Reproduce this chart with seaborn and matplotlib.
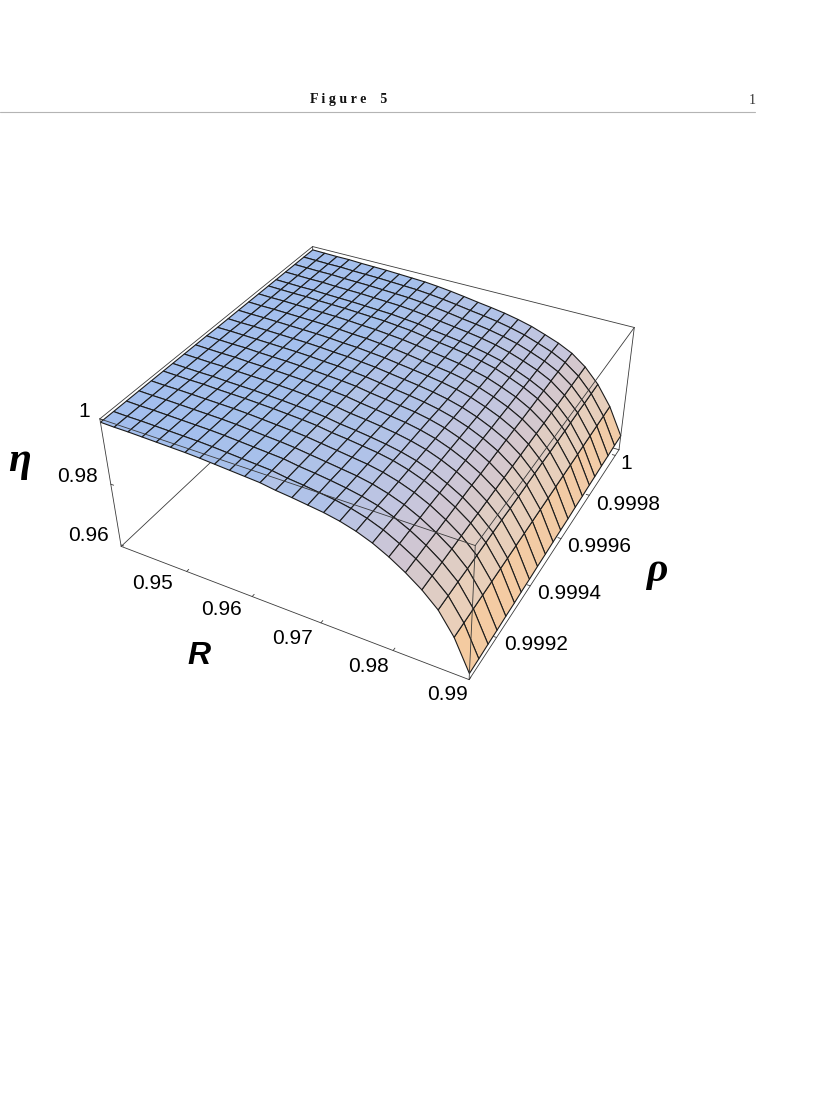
import numpy as np
import matplotlib
matplotlib.use("Agg")
import matplotlib.pyplot as plt
from matplotlib.lines import Line2D
from matplotlib.transforms import offset_copy
from mpl_toolkits.mplot3d import proj3d
import seaborn as sns

R_VALUES = [.9395, .9416, .9437, .9458, .9479, .9500, .9521, .9542, .9563, .9584, .9605, .9626, .9647,
            .9669, .9690, .9711, .9732, .9753, .9774, .9795, .9816, .9837, .9858, .9879, .9900]
RHO_VALUES = [.99905, .99910, .99915, .99920, .99925, .99930, .99934, .99939, .99944, .99949, .99954,
              .99959, .99964, .99969, .99974, .99979, .99983, .99988, .99993, .99998, 1.00003]
ETA_MIN, ETA_MAX = 0.9595, 1.0

# one row per R value, running along rho
ETA = [
    [.9990, .9990, .9990, .9990, .9990, .9990, .9990, .9990, .9990, .9990, .9989, .9989, .9989, .9989, .9989, .9989, .9989, .9989, .9989, .9989, .9989],
    [.9989, .9989, .9989, .9989, .9989, .9989, .9989, .9989, .9989, .9989, .9989, .9988, .9988, .9988, .9988, .9988, .9988, .9988, .9988, .9988, .9988],
    [.9989, .9989, .9989, .9989, .9989, .9988, .9988, .9988, .9988, .9988, .9988, .9988, .9988, .9988, .9988, .9987, .9987, .9987, .9987, .9987, .9987],
    [.9988, .9988, .9988, .9988, .9988, .9988, .9988, .9988, .9988, .9988, .9987, .9987, .9987, .9987, .9987, .9987, .9987, .9987, .9987, .9987, .9987],
    [.9987, .9987, .9987, .9987, .9987, .9986, .9986, .9986, .9986, .9986, .9986, .9986, .9986, .9986, .9986, .9985, .9985, .9985, .9985, .9985, .9985],
    [.9986, .9986, .9986, .9986, .9986, .9985, .9985, .9985, .9985, .9985, .9985, .9985, .9985, .9985, .9985, .9984, .9984, .9984, .9984, .9984, .9984],
    [.9985, .9985, .9985, .9985, .9985, .9984, .9984, .9984, .9984, .9984, .9984, .9984, .9984, .9984, .9984, .9983, .9983, .9983, .9983, .9983, .9983],
    [.9983, .9983, .9983, .9983, .9983, .9982, .9982, .9982, .9982, .9982, .9982, .9982, .9982, .9982, .9982, .9981, .9981, .9981, .9981, .9981, .9981],
    [.9980, .9980, .9980, .9980, .9980, .9980, .9980, .9980, .9980, .9980, .9979, .9979, .9979, .9979, .9979, .9979, .9979, .9979, .9979, .9979, .9979],
    [.9977, .9977, .9977, .9977, .9977, .9977, .9977, .9977, .9977, .9977, .9977, .9977, .9977, .9977, .9977, .9977, .9977, .9977, .9977, .9977, .9977],
    [.9974, .9974, .9974, .9974, .9974, .9974, .9974, .9974, .9974, .9974, .9973, .9973, .9973, .9973, .9973, .9973, .9973, .9973, .9973, .9973, .9973],
    [.9971, .9971, .9971, .9970, .9970, .9970, .9970, .9970, .9970, .9970, .9969, .9969, .9969, .9969, .9969, .9969, .9969, .9968, .9968, .9968, .9968],
    [.9964, .9964, .9964, .9964, .9964, .9963, .9963, .9963, .9963, .9963, .9963, .9963, .9963, .9963, .9963, .9962, .9962, .9962, .9962, .9962, .9962],
    [.9959, .9959, .9959, .9958, .9958, .9958, .9958, .9958, .9957, .9957, .9957, .9957, .9957, .9956, .9956, .9956, .9956, .9956, .9955, .9955, .9955],
    [.9953, .9953, .9953, .9952, .9952, .9952, .9952, .9952, .9951, .9951, .9951, .9951, .9951, .9950, .9950, .9950, .9950, .9950, .9949, .9949, .9949],
    [.9947, .9947, .9946, .9946, .9946, .9946, .9945, .9945, .9945, .9945, .9944, .9944, .9944, .9944, .9943, .9943, .9943, .9943, .9942, .9942, .9942],
    [.9938, .9938, .9937, .9937, .9937, .9937, .9936, .9936, .9936, .9936, .9935, .9935, .9935, .9935, .9934, .9934, .9934, .9934, .9933, .9933, .9933],
    [.9925, .9925, .9925, .9924, .9924, .9924, .9924, .9924, .9924, .9924, .9923, .9923, .9923, .9923, .9923, .9923, .9923, .9922, .9922, .9922, .9922],
    [.9907, .9907, .9907, .9907, .9907, .9907, .9907, .9907, .9907, .9907, .9907, .9907, .9907, .9907, .9907, .9907, .9907, .9907, .9907, .9907, .9907],
    [.9883, .9883, .9884, .9884, .9885, .9885, .9885, .9886, .9886, .9887, .9887, .9887, .9888, .9888, .9889, .9889, .9889, .9890, .9890, .9891, .9891],
    [.9854, .9855, .9856, .9856, .9857, .9858, .9859, .9860, .9860, .9861, .9862, .9863, .9864, .9864, .9865, .9866, .9867, .9868, .9868, .9869, .9870],
    [.9820, .9821, .9822, .9823, .9824, .9825, .9825, .9826, .9827, .9828, .9829, .9830, .9831, .9832, .9833, .9834, .9834, .9835, .9836, .9837, .9838],
    [.9777, .9778, .9779, .9779, .9780, .9781, .9782, .9783, .9783, .9784, .9785, .9786, .9787, .9787, .9788, .9789, .9790, .9791, .9791, .9792, .9793],
    [.9711, .9712, .9713, .9714, .9715, .9716, .9717, .9718, .9719, .9720, .9721, .9722, .9723, .9724, .9725, .9726, .9727, .9728, .9729, .9730, .9731],
    [.9615, .9616, .9618, .9619, .9621, .9622, .9624, .9625, .9627, .9628, .9630, .9631, .9632, .9634, .9635, .9637, .9638, .9640, .9641, .9643, .9644],
]

R_TICKS = [0.95, 0.96, 0.97, 0.98, 0.99]
R_TICK_LABELS = ["0.95", "0.96", "0.97", "0.98", "0.99"]
RHO_TICKS = [0.9992, 0.9994, 0.9996, 0.9998, 1.0]
RHO_TICK_LABELS = ["0.9992", "0.9994", "0.9996", "0.9998", "1"]
ETA_TICKS = [0.96, 0.98, 1.0]
ETA_TICK_LABELS = ["0.96", "0.98", "1"]

sns.set_style("white")
plt.rcParams["font.family"] = ["Liberation Sans", "DejaVu Sans"]

W, H = 836, 1100
fig = plt.figure(figsize=(W / 100, H / 100), dpi=100)
ax = fig.add_axes([258.72 / W, 542.24 / H, 237.95 / W, 237.95 / H], projection="3d", computed_zorder=False)
ax.set_proj_type("persp", focal_length=1)
ax.view_init(elev=35.9622, azim=-61.2652, roll=0.5891)
ax._dist = 5.4864
ax.set_box_aspect((2.4592, 2.4668, 1.0), zoom=1.2505)
ax.set_axis_off()

r_min, r_max = R_VALUES[0], R_VALUES[-1]
rho_min, rho_max = RHO_VALUES[0], RHO_VALUES[-1]
ax.set_xlim(r_min, r_max)
ax.set_ylim(rho_min, rho_max)
ax.set_zlim(ETA_MIN, ETA_MAX)

X, Y = np.meshgrid(R_VALUES, RHO_VALUES, indexing="ij")
Z = np.array(ETA)

# colour follows the steepness of each cell
steep = np.diff(Z, axis=0)
steep = 0.5 * (steep[:, :-1] + steep[:, 1:]) / (ETA_MAX - ETA_MIN)
level = np.clip(np.abs(steep) / 0.25, 0, 1) ** 0.5
stops = [(0.0, "#a3beee"), (0.155, "#a5c0ec"), (0.28, "#b4c3e6"), (0.447, "#c5c6de"),
         (0.53, "#d0c6d2"), (0.66, "#e0cdc3"), (0.8, "#e8cfbb"), (1.0, "#f6ca9e")]
cmap = matplotlib.colors.LinearSegmentedColormap.from_list("slope", stops)

surf = ax.plot_surface(X, Y, Z, rstride=1, cstride=1, facecolors=cmap(level), shade=False,
                       linewidth=0.8, antialiased=True, zorder=2)
surf.set_edgecolor("#1c1c1c")
surf.set_clip_on(False)


def edge(a, b, z_order=3, color="#3a3a3a"):
    line, = ax.plot([a[0], b[0]], [a[1], b[1]], [a[2], b[2]], color=color, lw=0.6, zorder=z_order)
    line.set_clip_on(False)


lo_a, lo_b, lo_c, lo_d = [(x, y, ETA_MIN) for x, y in [(r_min, rho_min), (r_max, rho_min), (r_max, rho_max), (r_min, rho_max)]]
hi_a, hi_b, hi_c, hi_d = [(x, y, ETA_MAX) for x, y in [(r_min, rho_min), (r_max, rho_min), (r_max, rho_max), (r_min, rho_max)]]
for a, b in [(lo_a, lo_d), (lo_c, lo_d), (lo_d, hi_d)]:
    edge(a, b, z_order=1)
for a, b in [(lo_a, lo_b), (lo_b, lo_c), (lo_a, hi_a), (lo_c, hi_c), (lo_b, hi_b),
             (hi_a, hi_b), (hi_b, hi_c), (hi_c, hi_d), (hi_d, hi_a)]:
    edge(a, b)


def label_at(x, y, z, s, dx, dy, **kw):
    # dx, dy in pixels, dy downwards like the picture
    px, py, _ = proj3d.proj_transform(x, y, z, ax.get_proj())
    trans = offset_copy(ax.transData, fig=fig, x=dx, y=-dy, units="dots")
    ax.text2D(px, py, s, transform=trans, ha="center", va="center", **kw)


R_OFFSETS = [(-34, 12), (-31, 13), (-28, 16), (-25, 16), (-22, 15)]
RHO_OFFSETS = [(39, 7), (39, 8), (38, 8), (39, 9), (11, 8)]
ETA_OFFSETS = [(-32, -9), (-33, -8), (-16, -7)]
tick = 0.009
for v, s, off in zip(R_TICKS, R_TICK_LABELS, R_OFFSETS):
    edge((v, rho_min, ETA_MIN), (v, rho_min + tick * (rho_max - rho_min), ETA_MIN))
    label_at(v, rho_min, ETA_MIN, s, *off, fontsize=15, color="black")
for v, s, off in zip(RHO_TICKS, RHO_TICK_LABELS, RHO_OFFSETS):
    edge((r_max, v, ETA_MIN), (r_max - tick * (r_max - r_min), v, ETA_MIN))
    label_at(r_max, v, ETA_MIN, s, *off, fontsize=15, color="black")
for v, s, off in zip(ETA_TICKS, ETA_TICK_LABELS, ETA_OFFSETS):
    edge((r_min, rho_min, v), (r_min + tick * (r_max - r_min), rho_min, v))
    label_at(r_min, rho_min, v, s, *off, fontsize=15, color="black")

label_at(0.9647, rho_min, ETA_MIN, "R", -85, 47, fontsize=23, fontweight="bold", fontstyle="italic",
         color="black")
label_at(r_max, 0.99954, ETA_MIN, "ρ", 105, 19, fontsize=30, fontweight="bold", fontstyle="italic",
         family="Liberation Serif", color="black")
label_at(r_min, rho_min, 0.98, "η", -91, -23, fontsize=30, fontweight="bold", fontstyle="italic",
         family="Liberation Serif", color="black")

# page header
fig.text(349 / W, 1 - 99 / H, "F i g u r e    5", family="Liberation Serif", fontweight="bold", fontsize=10,
         ha="center", va="center", color="#111111")
fig.text(752 / W, 1 - 100 / H, "1", family="Liberation Serif", fontsize=10, ha="center", va="center", color="#333333")
fig.add_artist(Line2D([0, 755 / W], [1 - 112 / H, 1 - 112 / H], color="#b4b4b4", lw=0.8))

fig.savefig("out.png", dpi=100)
